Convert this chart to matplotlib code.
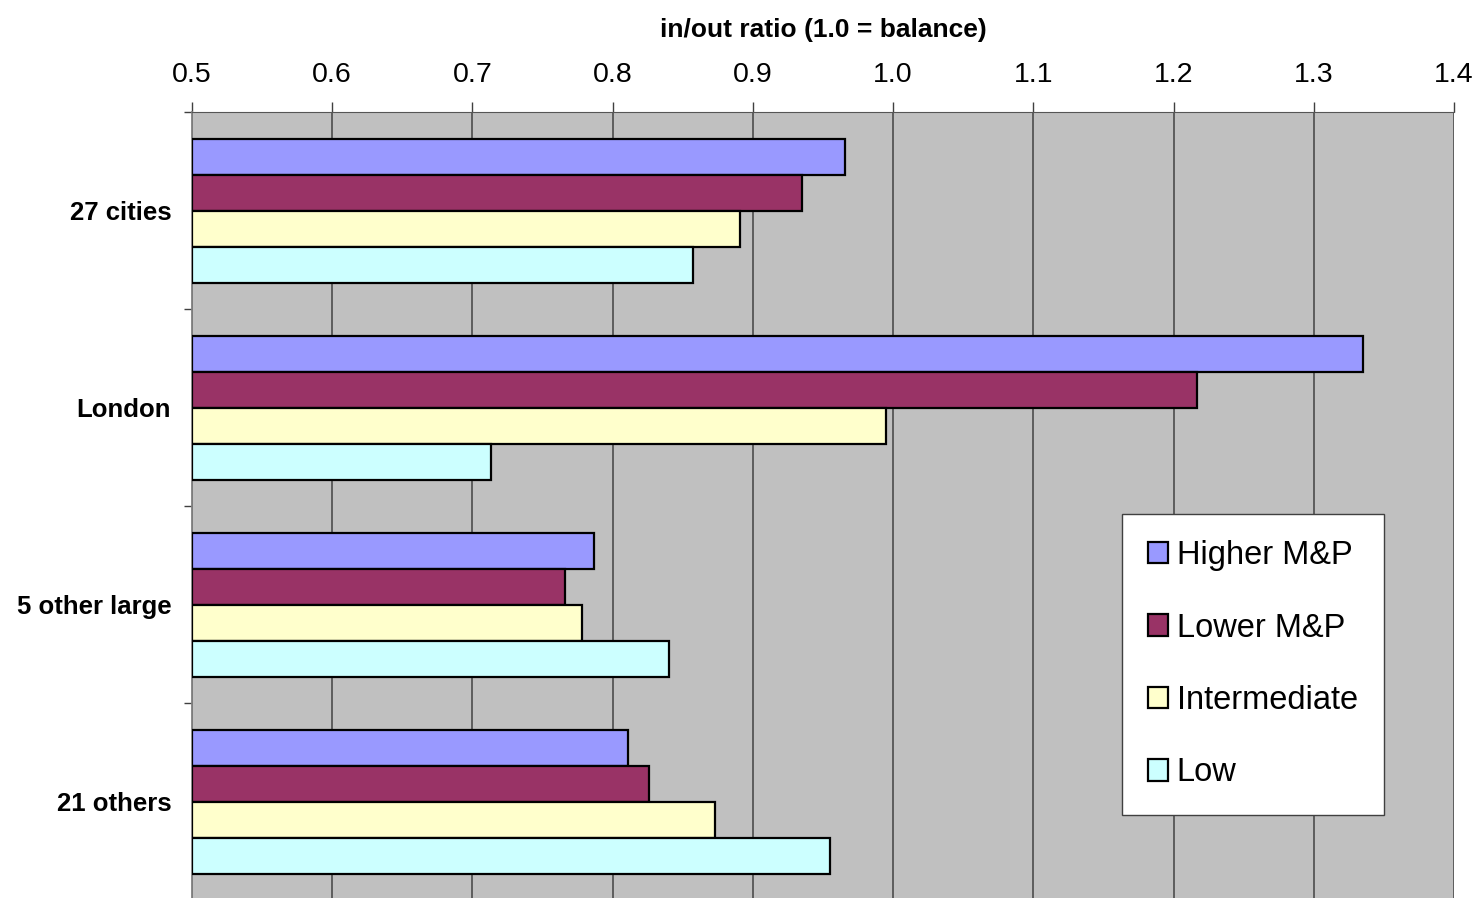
import numpy as np
import matplotlib.pyplot as plt
from matplotlib.ticker import FixedLocator

plt.rcParams['font.family'] = ['Liberation Sans', 'DejaVu Sans']

categories = ["27 cities", "London", "5 other large", "21 others"]
series = ["Higher M&P", "Lower M&P", "Intermediate", "Low"]
higher_mp = [0.966, 1.335, 0.787, 0.811]
lower_mp = [0.935, 1.217, 0.766, 0.826]
intermediate = [0.891, 0.995, 0.778, 0.873]
low = [0.857, 0.713, 0.840, 0.955]
colors = ["#9999FF", "#993366", "#FFFFCC", "#CCFFFF"]
xticks = [0.5, 0.6, 0.7, 0.8, 0.9, 1.0, 1.1, 1.2, 1.3, 1.4]

values = [higher_mp, lower_mp, intermediate, low]

fig = plt.figure(figsize=(14.75, 8.98), dpi=100)
ax = fig.add_axes([192 / 1475, (898 - 900) / 898, (1454 - 192) / 1475, (900 - 112) / 898])
ax.set_facecolor("#C0C0C0")

y = np.arange(len(categories))
h = 36 / 197
for i, (name, vals, col) in enumerate(zip(series, values, colors)):
    ax.barh(y + (i - 1.5) * h, np.array(vals) - 0.5, left=0.5, height=h,
            color=col, edgecolor="black", linewidth=1.6, label=name, zorder=3)

ax.set_xlim(0.5, 1.4)
ax.set_ylim(3.5, -0.5)

ax.xaxis.tick_top()
ax.xaxis.set_label_position("top")
ax.set_xticks(xticks)
ax.set_xticklabels([f"{t:.1f}" for t in xticks])
ax.tick_params(axis="x", direction="out", length=7, width=1, color="#404040",
               labelsize=20.5, pad=10)
ax.set_xlabel("in/out ratio (1.0 = balance)", fontsize=19, fontweight="bold", labelpad=18)

ax.set_yticks(y)
ax.set_yticklabels(categories, fontsize=18.5, fontweight="bold")
ax.tick_params(axis="y", which="major", length=0, pad=15)
ax.yaxis.set_minor_locator(FixedLocator(np.arange(-0.5, len(categories), 1.0)))
ax.tick_params(axis="y", which="minor", direction="out", length=6, width=1, color="#404040")

ax.grid(axis="x", color="#555555", linewidth=1.3, zorder=0)
ax.set_axisbelow(True)
for s in ["bottom", "right"]:
    ax.spines[s].set_visible(False)
ax.spines["top"].set_color("#555555")
ax.spines["left"].set_color("#808080")
ax.spines["left"].set_linewidth(1.3)

leg = ax.legend(loc="upper left", bbox_to_anchor=((1122 - 192) / 1262, (900 - 514) / 788),
                fontsize=23.5, frameon=True, fancybox=False, framealpha=1,
                edgecolor="#404040", handlelength=0.62, handleheight=0.62,
                handletextpad=0.25, labelspacing=1.27, borderpad=0.8, borderaxespad=0)
leg.get_frame().set_linewidth(1.0)

fig.savefig("out.png", dpi=100)
